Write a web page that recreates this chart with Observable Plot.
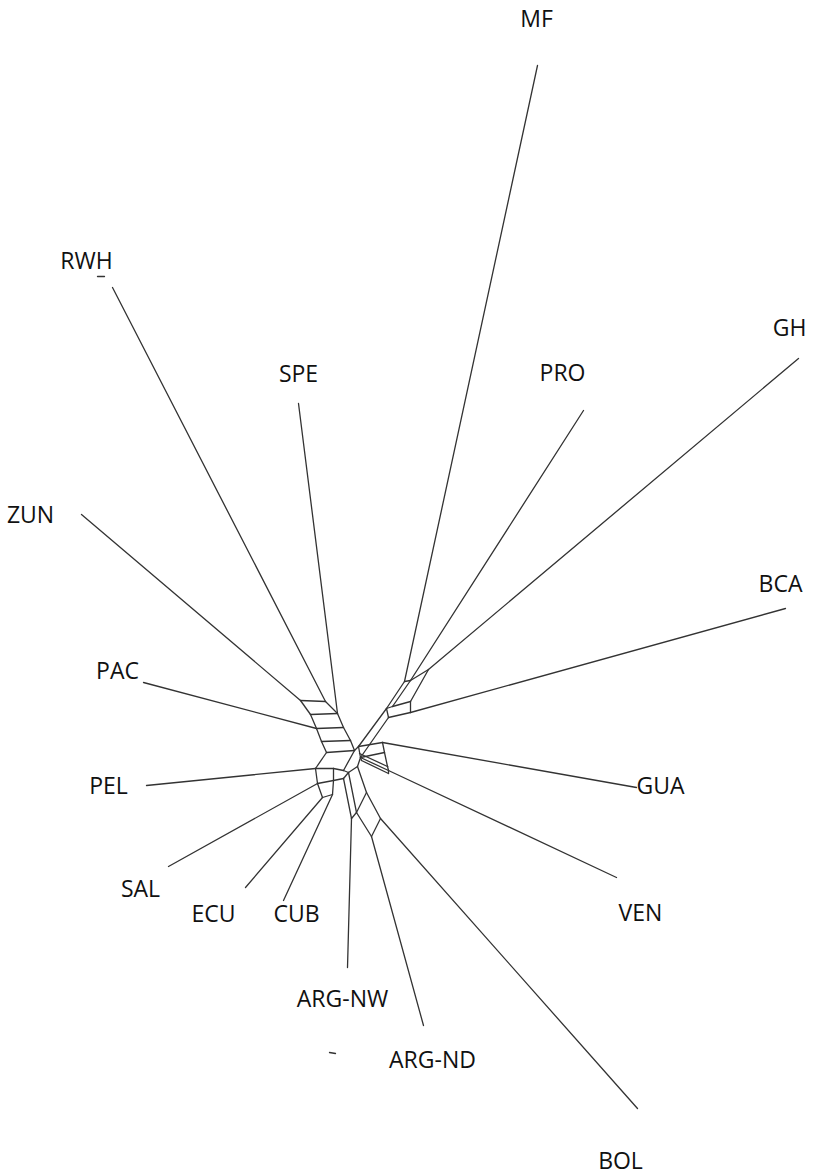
<!DOCTYPE html>
<html>
<head>
<meta charset="utf-8">
<script src="https://cdn.jsdelivr.net/npm/d3@7"></script>
<script src="https://cdn.jsdelivr.net/npm/@observablehq/plot@0.6"></script>
<style>
  html, body { margin: 0; padding: 0; background: #fff; }
  #chart svg { display: block; }
</style>
</head>
<body>
<div id="chart"></div>
<script>
// Taxa (leaf labels) and where the label text sits in layout units
const taxa   = ["MF","PRO","GH","BCA","GUA","VEN","BOL","ARG-ND","ARG-NW","CUB","ECU","SAL","PEL","PAC","ZUN","RWH","SPE"];
const labelX = [536, 562, 789, 780, 660, 640, 620, 432, 342, 296, 213, 140, 108, 117, 30, 86, 298];
const labelY = [19, 373, 328, 584, 786, 913, 1161, 1060, 999, 914, 914, 889, 786, 671, 515, 261, 374];

// Network nodes (layout coordinates)
const nodeNames = [
  "tMF","tPRO","tGH","tBCA","tGUA","tVEN","tBOL","tAND","tANW","tCUB","tECU","tSAL","tPEL","tPAC","tZUN","tRWH","tSPE",
  "a1","a2","a3","a4","a5","a6","a7","a8","a9","a10",
  "b1","b2","b3","b4","b5","b6","b7",
  "r1","r2","r3","r4","r5","r6","r7","r8",
  "c1","c1b","c2","g1","g2","v1","v1b","v0","v2",
  "d0","d1","d2","d3","d4","d5","e0","e1",
  "s1","s2","s3","s4"
];
const nodeX = [
  537,583,798,785,636,616,637,423,347,283,245,168,146,143,81,112,298,
  300,325,310,337,316,343,321,350,326,354,
  315,333,343,317,333,322,332,
  404,410,428,386,392,410,410,388,
  360,359,358,382,384,388,387,361,388,
  348,357,380,366,356,371,343,351,
  329,335,97,104
];
const nodeY = [
  65,410,358,608,787,877,1108,1025,967,900,887,866,785,682,514,287,403,
  700,701,714,713,728,727,741,740,752,750,
  768,768,770,783,780,797,794,
  681,680,669,708,706,701,712,717,
  757,753,746,742,752,770,766,760,773,
  772,766,818,792,812,836,778,818,
  1052,1053,276,276
];

// Edges of the split network
const edgeFrom = [
  "tMF","tPRO","tGH","tBCA","tGUA","tVEN","tBOL","tAND","tANW","tCUB","tECU","tSAL","tPEL","tPAC","tZUN","tRWH","tSPE",
  "a1","a1","a2","a3","a3","a4","a5","a5","a6","a7","a7","a8","a9","a9",
  "b1","b1","b2","b4","b4","b5","b6","b3","b2",
  "r1","r2","r1","r2","r3","r4","r5","r6","r4","r7","r4","r8",
  "c2","c2","g1","c1","c1","c1b","v1","g2","c2","v0","v0","v2",
  "d0","d0","d0","d1","d1","d3","d3","d2","d4","d4","e0","b3","e0",
  "s1","s3"
];
const edgeTo = [
  "r1","r2","r3","r7","g1","v1","d2","d5","e1","b7","b6","b4","b1","a5","a1","a2","a4",
  "a2","a3","a4","a4","a5","a6","a6","a7","a8","a8","a9","a10","a10","b1",
  "b2","b4","b5","b5","b6","b7","b7","a10","b3",
  "r2","r3","r4","r5","r6","r5","r6","r7","c2","r8","r8","c1",
  "c1","g1","g2","g2","v1","v1b","v1b","v1b","a10","v2","c1","v1",
  "d1","d4","e0","d3","c1","d2","d4","d5","d5","e1","e1","d0","b5",
  "s2","s4"
];

const pos = new Map(nodeNames.map((n, i) => [n, [nodeX[i], nodeY[i]]]));
const edges = edgeFrom.map((f, i) => ({
  x1: pos.get(f)[0], y1: pos.get(f)[1],
  x2: pos.get(edgeTo[i])[0], y2: pos.get(edgeTo[i])[1]
}));
const labels = taxa.map((t, i) => ({name: t, x: labelX[i], y: labelY[i]}));

const chart = Plot.plot({
  width: 835,
  height: 1176,
  margin: 0,
  x: {domain: [0, 835], range: [0, 835], axis: null},
  y: {domain: [0, 1176], range: [0, 1176], axis: null},
  style: {background: "#fff", overflow: "visible"},
  marks: [
    Plot.link(edges, {x1: "x1", y1: "y1", x2: "x2", y2: "y2", stroke: "#333", strokeWidth: 1.3, strokeLinecap: "round"}),
    Plot.text(labels, {x: "x", y: "y", text: "name", fontSize: 23, fill: "#111", fontFamily: "Open Sans", textAnchor: "middle", lineAnchor: "middle"})
  ]
});
document.getElementById("chart").appendChild(chart);
</script>
</body>
</html>
